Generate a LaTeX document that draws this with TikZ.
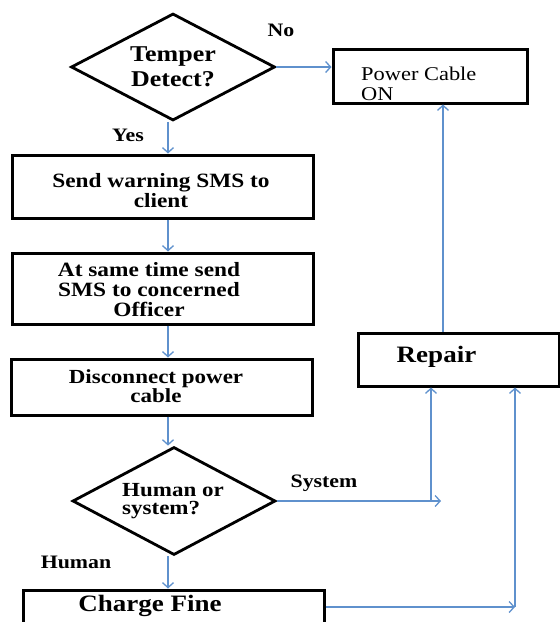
\documentclass[tikz,border=0pt]{standalone}
\usepackage{fontspec}
\setmainfont[FakeStretch=1.15]{Liberation Serif}
\usetikzlibrary{shapes.geometric,arrows.meta}
\definecolor{flowblue}{RGB}{95,145,205}
\begin{document}
\begin{tikzpicture}[x=1pt,y=-1pt,
  proc/.style={draw=black, line width=3pt, rectangle, inner sep=0pt},
  dec/.style={draw=black, line width=2.8pt, diamond, inner sep=0pt, aspect=1.9,
    minimum width=204pt, minimum height=107pt},
  boxtext/.style={inner sep=0pt, align=center, font=\bfseries\fontsize{20.3}{20}\selectfont},
  lbl/.style={inner sep=0pt, font=\bfseries\fontsize{19}{19}\selectfont},
  flow/.style={draw=flowblue, line width=1.3pt, -{Straight Barb[length=5pt,width=11pt]}}]
\useasboundingbox (0,0) rectangle (560,622);
\clip (0,0) rectangle (560,622);

% main column of the flow
\coordinate (spine) at (168,0);
\node[dec, align=center, font=\bfseries\fontsize{22.6}{25}\selectfont] (D1) at (173,67) {Temper\\Detect?};
\node[proc, minimum width=301pt, minimum height=63pt] (B1) at (162.5,186.5) {};
\node[boxtext] (B1t) at (161,191) {Send warning SMS to\\client};
\node[proc, minimum width=301pt, minimum height=71pt] (B2) at (162.5,288.5) {};
\node[boxtext] (B2t) at (149,290) {At same time send\\SMS to concerned\\Officer};
\node[proc, minimum width=301pt, minimum height=56pt] (B3) at (161.5,387) {};
\node[boxtext, font=\bfseries\fontsize{20}{18.5}\selectfont] (B3t) at (156,386) {Disconnect power\\cable};
\node[dec, minimum width=203pt, minimum height=108pt] (D2) at (174,501) {};
\node[inner sep=0pt, align=left, font=\bfseries\fontsize{20}{18.5}\selectfont] (D2t) at (173,501) {Human or\\system?};
\node[proc, minimum width=301pt, minimum height=50pt] (CF) at (173.5,615) {};
\node[inner sep=0pt, font=\bfseries\fontsize{23.5}{24}\selectfont] (CFt) at (150,606) {Charge Fine};

% right column
\node[proc, minimum width=194pt, minimum height=54pt] (P) at (430,76) {};
\node[inner sep=0pt, anchor=west, align=left, font=\fontsize{19.5}{19.5}\selectfont] (Pt) at (361,84) {Power Cable\\ON};
\node[proc, minimum width=201pt, minimum height=53pt] (R) at (458.5,359.5) {};
\node[inner sep=0pt, font=\bfseries\fontsize{23.5}{24}\selectfont] (Rt) at (436.5,357) {Repair};

% branch labels
\node[lbl] (no) at (281,30) {No};
\node[lbl] (yes) at (128,135) {Yes};
\node[lbl] (sys) at (324,483) {System};
\node[lbl] (hum) at (76,562) {Human};

% connectors
\draw[flow] (D1.east) -- (D1.east -| P.west);
\draw[flow] (D1.south -| spine) -- (B1.north -| spine);
\draw[flow] (B1.south -| spine) -- (B2.north -| spine);
\draw[flow] (B2.south -| spine) -- (B3.north -| spine);
\draw[flow] (B3.south -| spine) -- (D2.north -| spine);
\draw[flow] (D2.south -| spine) -- (CF.north -| spine);

\coordinate (sysEnd) at (441,501);
\coordinate (sysUp) at (431,501);
\draw[flow] (D2.east) -- (sysEnd);
\draw[flow] (sysUp) -- (sysUp |- R.south);

\coordinate (fineEnd) at (515,607);
\draw[flow] (CF.east |- fineEnd) -- (fineEnd);
\draw[flow] (fineEnd) -- (fineEnd |- R.south);

\coordinate (upLine) at (443,0);
\draw[flow] (R.north -| upLine) -- (P.south -| upLine);
\end{tikzpicture}
\end{document}
